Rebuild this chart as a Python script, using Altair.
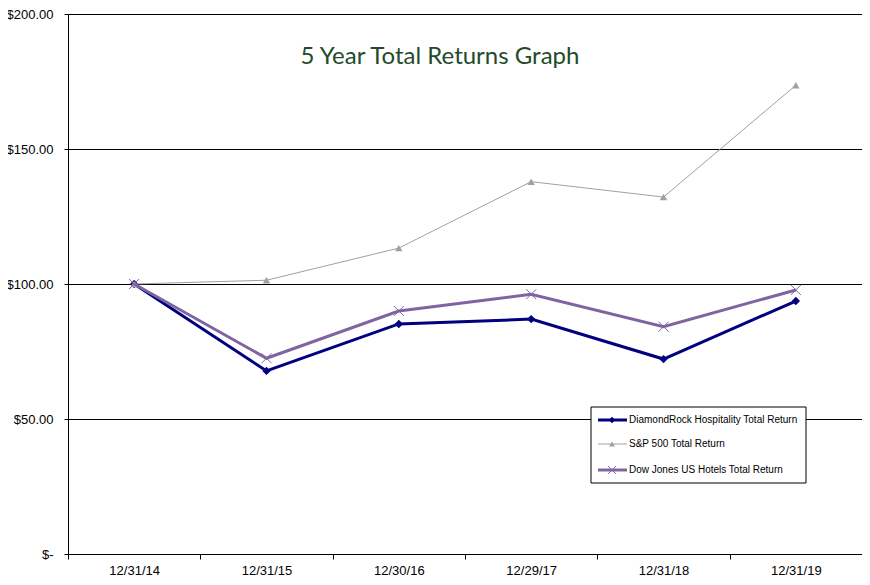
import altair as alt
import pandas as pd

dates = ["12/31/14", "12/31/15", "12/30/16", "12/29/17", "12/31/18", "12/31/19"]
drh_values = [100.0, 67.8, 85.2, 87.0, 72.2, 93.7]
sp_values = [100.0, 101.4, 113.3, 137.9, 132.2, 173.6]
dj_values = [100.0, 72.5, 90.0, 96.2, 84.2, 97.8]

series_names = [
    "DiamondRock Hospitality Total Return",
    "S&P 500 Total Return",
    "Dow Jones US Hotels Total Return",
]
y_ticks = [0, 50, 100, 150, 200]
title_text = "5 Year Total Returns Graph"

W, H = 794, 540

x_enc = alt.X(
    "date:O",
    sort=dates,
    scale=alt.Scale(type="band", paddingInner=0, paddingOuter=0),
    title=None,
    axis=alt.Axis(
        labelAngle=0,
        labelFont="Liberation Sans",
        labelFontSize=13,
        labelColor="black",
        labelPadding=5,
        tickBand="extent",
        tickSize=5,
        tickColor="black",
        domainColor="black",
        domainWidth=1,
        grid=False,
    ),
)
y_enc = alt.Y(
    "value:Q",
    scale=alt.Scale(domain=[0, 200], nice=False, zero=True),
    title=None,
    axis=alt.Axis(
        values=y_ticks,
        labelExpr="datum.value == 0 ? '$-\u00a0\u00a0' : '$' + format(datum.value, '.2f')",
        labelFont="Liberation Sans",
        labelFontSize=13,
        labelColor="black",
        labelPadding=11,
        tickSize=4,
        tickColor="black",
        domainColor="black",
        grid=True,
        gridColor="black",
        gridWidth=1,
        gridOpacity=1,
    ),
)

styles = [
    dict(name=series_names[0], vals=drh_values, color="#000080", width=3,
         shape="diamond", size=70, filled=True),
    dict(name=series_names[1], vals=sp_values, color="#A0A0A0", width=1,
         shape="triangle-up", size=55, filled=True),
    dict(name=series_names[2], vals=dj_values, color="#8064A2", width=3,
         shape="M-1,-1L1,1M-1,1L1,-1", size=100, filled=False),
]

layers = []
for s in styles:
    df = pd.DataFrame({"date": dates, "value": s["vals"], "series": s["name"]})
    base = alt.Chart(df)
    line = base.mark_line(color=s["color"], strokeWidth=s["width"]).encode(x=x_enc, y=y_enc)
    if s["filled"]:
        pts = base.mark_point(shape=s["shape"], size=s["size"], filled=True,
                              color=s["color"], opacity=1).encode(x=x_enc, y=y_enc)
    else:
        pts = base.mark_point(shape=s["shape"], size=s["size"], filled=False,
                              stroke=s["color"], strokeWidth=1, opacity=1).encode(x=x_enc, y=y_enc)
    layers += [line, pts]

# Title
title_layer = alt.Chart(pd.DataFrame({"t": [title_text]})).mark_text(
    font="Lato", fontSize=24, color="#234B2B", align="center", baseline="middle"
).encode(x=alt.value(372), y=alt.value(43), text="t:N")

# Legend box
one = pd.DataFrame({"k": [0]})
legend_box = alt.Chart(one).mark_rect(fill="white", stroke="black", strokeWidth=1).encode(
    x=alt.value(523), x2=alt.value(738), y=alt.value(393), y2=alt.value(469)
)
legend_layers = [legend_box]
row_y = [406, 430, 456]
for s, ry in zip(styles, row_y):
    ldf = pd.DataFrame({"label": [s["name"]]})
    lb = alt.Chart(ldf)
    legend_layers.append(
        lb.mark_rule(color=s["color"], strokeWidth=s["width"]).encode(
            x=alt.value(530), x2=alt.value(559), y=alt.value(ry)
        )
    )
    if s["filled"]:
        legend_layers.append(
            lb.mark_point(shape=s["shape"], size=s["size"] * 0.6, filled=True,
                          color=s["color"], opacity=1).encode(x=alt.value(544), y=alt.value(ry))
        )
    else:
        legend_layers.append(
            lb.mark_point(shape=s["shape"], size=s["size"] * 0.6, filled=False,
                          stroke=s["color"], strokeWidth=1, opacity=1).encode(x=alt.value(544), y=alt.value(ry))
        )
    legend_layers.append(
        lb.mark_text(font="Liberation Sans", fontSize=10, color="black",
                     align="left", baseline="middle").encode(
            x=alt.value(561), y=alt.value(ry), text="label:N"
        )
    )

chart = alt.layer(*layers, title_layer, *legend_layers).properties(
    width=W,
    height=H,
    autosize=alt.AutoSizeParams(type="none"),
    padding={"left": 60, "top": 6, "right": 0, "bottom": 25},
    background="white",
).configure_view(stroke=None)

chart.save("out.html", embed_options={"renderer": "svg", "actions": False})
